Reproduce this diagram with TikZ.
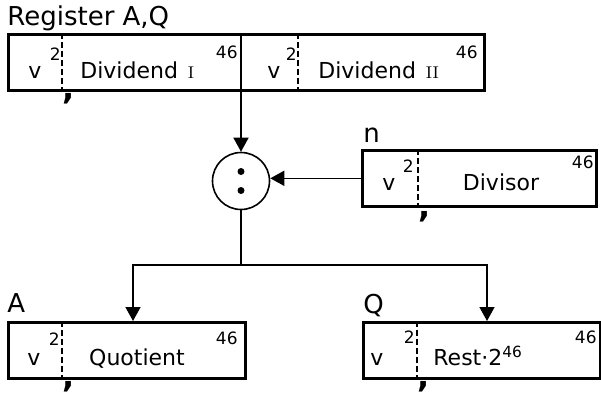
\documentclass[tikz,border=0pt]{standalone}
\usepackage{fontspec}
\setsansfont{DejaVu Sans}
\usetikzlibrary{arrows.meta}
\newcommand{\romsub}[1]{{\rmfamily\fontsize{8.5}{9}\selectfont\,#1}}

\begin{document}
\begin{tikzpicture}[x=0.5pt, y=-0.5pt,
    reg/.style={draw, line width=1.3pt, inner sep=0pt, minimum height=28pt,
                anchor=north west},
    sep/.style={line width=0.8pt, dash pattern=on 3pt off 1.5pt},
    wall/.style={line width=0.9pt},
    txt/.style={inner sep=0pt, anchor=base, font=\sffamily\fontsize{11}{13}\selectfont},
    expo/.style={inner sep=0pt, anchor=base east, font=\sffamily\fontsize{8.5}{9}\selectfont},
    lbl/.style={inner sep=0pt, anchor=base west, font=\sffamily\fontsize{13}{15}\selectfont},
    kom/.style={inner sep=0pt, anchor=north west, font=\sffamily\bfseries\fontsize{16}{16}\selectfont},
    arr/.style={-{Triangle[width=7.5pt,length=7pt]}, line width=0.75pt}
  ]
    \useasboundingbox (0,0) rectangle (601,398);

    % register A,Q
    \node[lbl] (laq) at (7,25) {Register A,Q};
    \node[reg, minimum width=238pt] (aq) at (7,33) {};
    \draw[sep]  (62,33) -- (62,89);
    \draw[wall] (241,33) -- (241,89);
    \draw[sep]  (298,33) -- (298,89);
    \node[txt] (aqv1) at (35,78) {v};
    \node[expo] (aqe1) at (61,60) {2};
    \node[txt, anchor=base west] (aqd1) at (80,78) {Dividend \romsub{I}};
    \node[expo] (aqf1) at (238,58) {46};
    \node[txt] (aqv2) at (274,78) {v};
    \node[expo] (aqe2) at (297,60) {2};
    \node[txt, anchor=base west] (aqd2) at (318,78) {Dividend \romsub{II}};
    \node[expo] (aqf2) at (478,58) {46};
    \node[kom] (aqk) at (62,93) {,};

    % register n
    \node[lbl] (ln) at (363,142) {n};
    \node[reg, minimum width=117pt] (dvs) at (361,149) {};
    \draw[sep] (418,149) -- (418,207);
    \node[txt] (dvsv) at (389,190) {v};
    \node[expo] (dvse) at (414,172) {2};
    \node[txt] (dvst) at (501,190) {Divisor};
    \node[expo] (dvsf) at (594,168) {46};
    \node[kom] (dvsk) at (418,211) {,};

    % divide
    \node[draw, circle, line width=0.8pt, minimum size=28.5pt, inner sep=0pt] (div) at (241,181) {};
    \fill (div.center) +(0,-9.5) circle (3.5);
    \fill (div.center) +(0,9.5) circle (3.5);

    % register A
    \node[lbl] (la) at (7,312) {A};
    \node[reg, minimum width=118.5pt] (qa) at (7,321) {};
    \draw[sep] (62,321) -- (62,377);
    \node[txt] (qav) at (34,365) {v};
    \node[expo] (qae) at (60,345) {2};
    \node[txt] (qat) at (137,365) {Quotient};
    \node[expo] (qaf) at (238,344) {46};
    \node[kom] (qak) at (62,381) {,};

    % register Q
    \node[lbl] (lq) at (363,313) {Q};
    \node[reg, minimum width=118.5pt] (rq) at (362,321) {};
    \draw[sep] (417,321) -- (417,377);
    \node[txt] (rqv) at (377,365) {v};
    \node[expo] (rqe) at (415,343) {2};
    \node[txt, anchor=base west] (rqt) at (433,365) {Rest·2\textsuperscript{46}};
    \node[expo] (rqf) at (597,343) {46};
    \node[kom] (rqk) at (417,381) {,};

    % connectors
    \coordinate (br) at (241,265);
    \coordinate (qin) at (133,321);
    \coordinate (rin) at (487,321);
    \draw[arr] (div |- aq.south) -- (div.north);
    \draw[arr] (dvs.west) -- (dvs.west -| div.east);
    \draw[line width=0.75pt] (div.south) -- (br);
    \draw[arr] (br) -| (qin);
    \draw[arr] (br) -| (rin);
  \end{tikzpicture}
\end{document}
